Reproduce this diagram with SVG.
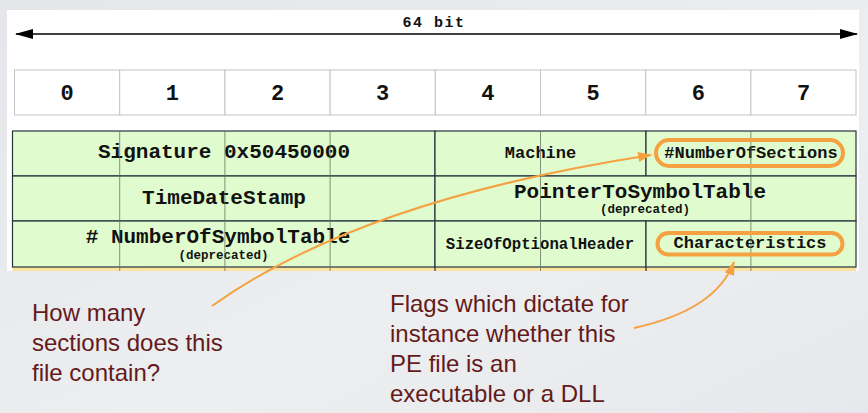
<svg xmlns="http://www.w3.org/2000/svg" width="868" height="413" viewBox="0 0 868 413">
<defs>
<linearGradient id="bg" x1="0" y1="0" x2="1" y2="1">
<stop offset="0" stop-color="#e4e6e9"/>
<stop offset="0.6" stop-color="#eceef0"/>
<stop offset="1" stop-color="#e6e8eb"/>
</linearGradient>
<marker id="blk" viewBox="0 0 18 10" refX="17" refY="5" markerWidth="18" markerHeight="10" markerUnits="userSpaceOnUse" orient="auto-start-reverse">
<path d="M0,0 L18,5 L0,10 Z" fill="#000"/>
</marker>
<marker id="org" viewBox="0 0 14 10" refX="13" refY="5" markerWidth="14" markerHeight="10" markerUnits="userSpaceOnUse" orient="auto">
<path d="M0,0 L14,5 L0,10 Z" fill="#f5a142"/>
</marker>
<style>
.mono{font-family:"Liberation Mono","Courier New",monospace;font-weight:bold;fill:#111;text-anchor:middle}
.byte{fill:#fff;stroke:#c4c4c4;stroke-width:1}
.cell{fill:#e0fcce;stroke:#26323c;stroke-width:1.2}
.grid{stroke:#5f6f58;stroke-width:1;opacity:0.75}
.ring{fill:none;stroke:#f5a142;stroke-width:4}
.conn{fill:none;stroke:#f5a142;stroke-width:2}
.note{font-family:"Helvetica Neue","Liberation Sans",Arial,sans-serif;font-size:24px;fill:#641a1a}
</style>
</defs>
<rect width="868" height="413" fill="url(#bg)"/>
<rect x="7" y="10" width="852" height="261" fill="#fff"/>

<g id="width-arrow">
<line x1="16" y1="34" x2="857" y2="34" stroke="#000" stroke-width="1.6" marker-start="url(#blk)" marker-end="url(#blk)"/>
<text class="mono" x="434" y="27" font-size="15" letter-spacing="1.5">64 bit</text>
</g>

<g id="byte-row">
<rect class="byte" x="14.5" y="70" width="105.2" height="45"/>
<rect class="byte" x="119.7" y="70" width="105.2" height="45"/>
<rect class="byte" x="224.9" y="70" width="105.2" height="45"/>
<rect class="byte" x="330.1" y="70" width="105.2" height="45"/>
<rect class="byte" x="435.3" y="70" width="105.2" height="45"/>
<rect class="byte" x="540.5" y="70" width="105.2" height="45"/>
<rect class="byte" x="645.7" y="70" width="105.2" height="45"/>
<rect class="byte" x="750.9" y="70" width="105.1" height="45"/>
<g font-size="22">
<text class="mono" x="67" y="100">0</text>
<text class="mono" x="172.3" y="100">1</text>
<text class="mono" x="277.5" y="100">2</text>
<text class="mono" x="382.7" y="100">3</text>
<text class="mono" x="487.9" y="100">4</text>
<text class="mono" x="593.1" y="100">5</text>
<text class="mono" x="698.3" y="100">6</text>
<text class="mono" x="803.5" y="100">7</text>
</g>
</g>

<g id="bottom-row">
<rect x="12.5" y="267" width="843.5" height="4" fill="#fde2a0"/>
</g>

<g id="signature">
<rect class="cell" x="12.5" y="131" width="422.5" height="45"/>
<text class="mono" x="224" y="158" font-size="21">Signature 0x50450000</text>
</g>
<g id="machine">
<rect class="cell" x="435" y="131" width="211" height="45"/>
<text class="mono" x="540.5" y="158" font-size="17">Machine</text>
</g>
<g id="number-of-sections">
<rect class="cell" x="646" y="131" width="210" height="45"/>
<text class="mono" x="751" y="158" font-size="17">#NumberOfSections</text>
</g>
<g id="time-date-stamp">
<rect class="cell" x="12.5" y="176" width="422.5" height="45"/>
<text class="mono" x="224" y="204" font-size="21">TimeDateStamp</text>
</g>
<g id="pointer-to-symbol-table">
<rect class="cell" x="435" y="176" width="421" height="45"/>
<text class="mono" x="640" y="197.5" font-size="21">PointerToSymbolTable</text>
<text class="mono" x="645" y="213" font-size="12.5">(deprecated)</text>
</g>
<g id="number-of-symbol-table">
<rect class="cell" x="12.5" y="221" width="422.5" height="46"/>
<text class="mono" x="218" y="243" font-size="21"># NumberOfSymbolTable</text>
<text class="mono" x="223.5" y="258.5" font-size="12.5">(deprecated)</text>
</g>
<g id="size-of-optional-header">
<rect class="cell" x="435" y="221" width="211" height="46"/>
<text class="mono" x="540" y="249" font-size="15.7">SizeOfOptionalHeader</text>
</g>
<g id="characteristics">
<rect class="cell" x="646" y="221" width="210" height="46"/>
<text class="mono" x="750" y="248" font-size="17">Characteristics</text>
</g>

<g id="byte-grid">
<line class="grid" x1="119.7" y1="131" x2="119.7" y2="271"/>
<line class="grid" x1="224.9" y1="131" x2="224.9" y2="271"/>
<line class="grid" x1="330.1" y1="131" x2="330.1" y2="271"/>
<line class="grid" x1="540.5" y1="131" x2="540.5" y2="176"/>
<line class="grid" x1="540.5" y1="221" x2="540.5" y2="271"/>
<line class="grid" x1="750.9" y1="131" x2="750.9" y2="271"/>
<line class="grid" x1="540.5" y1="176" x2="540.5" y2="221"/>
<line x1="435" y1="267" x2="435" y2="271" stroke="#26323c" stroke-width="1.2"/>
<line x1="646" y1="267" x2="646" y2="271" stroke="#26323c" stroke-width="1.2"/>
</g>

<g id="highlights">
<rect class="ring" x="656" y="140" width="187" height="26" rx="13"/>
<rect class="ring" x="657.5" y="233" width="185" height="21.5" rx="10.75"/>
</g>

<g id="connectors">
<path class="conn" d="M212,306 Q360,200 651,155" marker-end="url(#org)"/>
<path class="conn" d="M634,328 Q716,310 734,262" marker-end="url(#org)"/>
</g>

<g id="note-sections">
<text class="note"><tspan x="32" y="321">How many</tspan><tspan x="32" y="351">sections does this</tspan><tspan x="32" y="381">file contain?</tspan></text>
</g>
<g id="note-characteristics">
<text class="note"><tspan x="390" y="312">Flags which dictate for</tspan><tspan x="390" y="342">instance whether this</tspan><tspan x="390" y="372">PE file is an</tspan><tspan x="390" y="402">executable or a DLL</tspan></text>
</g>
</svg>
